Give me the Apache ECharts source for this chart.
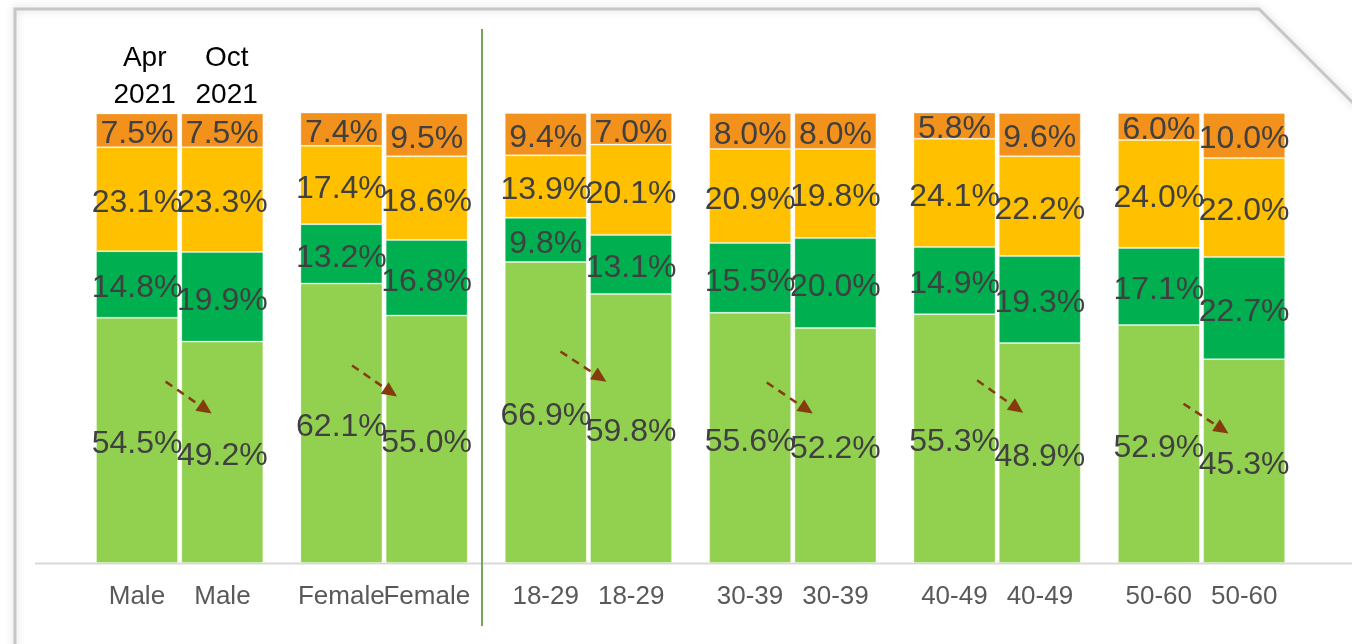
<!DOCTYPE html>
<html><head><meta charset="utf-8">
<script src="https://cdn.jsdelivr.net/npm/echarts@6/dist/echarts.min.js"></script>
<style>html,body{margin:0;padding:0;background:#fff}#c{width:1352px;height:644px}</style>
</head><body><div id="c"></div>
<script>
// Categories (pairs: Apr 2021 / Oct 2021)
const groups = ['Male', 'Female', '18-29', '30-39', '40-49', '50-60'];
const periodLabels = ['Apr\n2021', 'Oct\n2021'];
// Segments, bottom to top (percent)
const aprSeg1 = [54.5, 62.1, 66.9, 55.6, 55.3, 52.9];
const aprSeg2 = [14.8, 13.2, 9.8, 15.5, 14.9, 17.1];
const aprSeg3 = [23.1, 17.4, 13.9, 20.9, 24.1, 24.0];
const aprSeg4 = [7.5, 7.4, 9.4, 8.0, 5.8, 6.0];
const octSeg1 = [49.2, 55.0, 59.8, 52.2, 48.9, 45.3];
const octSeg2 = [19.9, 16.8, 13.1, 20.0, 19.3, 22.7];
const octSeg3 = [23.3, 18.6, 20.1, 19.8, 22.2, 22.0];
const octSeg4 = [7.5, 9.5, 7.0, 8.0, 9.6, 10.0];
// Trend-arrow annotations: start/end value levels
const arrowFrom = [40.3, 43.9, 47.0, 40.1, 40.6, 35.4];
const arrowTo = [33.2, 37.0, 40.3, 33.2, 33.4, 28.8];

const segColors = ['#92D050', '#00B050', '#FFC000', '#F2911B'];
const labelFont = "'Liberation Sans Narrow', 'Liberation Sans', Arial, sans-serif";
const axisFont = "'Liberation Sans', Arial, sans-serif";

function mk(name, stack, data, color) {
  return {
    name: name, type: 'bar', stack: stack, data: data,
    barWidth: 82, barGap: '4%',
    itemStyle: { color: color, borderColor: 'rgba(255,255,255,0.3)', borderWidth: 1 },
    label: {
      show: true, position: 'inside', offset: [0, 4],
      formatter: p => p.value.toFixed(1) + '%',
      fontFamily: labelFont, fontSize: 32, color: '#404040'
    },
    emphasis: { disabled: true }
  };
}
const aprSets = [aprSeg1, aprSeg2, aprSeg3, aprSeg4];
const octSets = [octSeg1, octSeg2, octSeg3, octSeg4];
const series = [];
aprSets.forEach((d, i) => series.push(mk('apr' + i, 'apr', d, segColors[i])));
octSets.forEach((d, i) => series.push(mk('oct' + i, 'oct', d, segColors[i])));

const chart = echarts.init(document.getElementById('c'), null, { renderer: 'canvas' });
chart.setOption({
  animation: false,
  backgroundColor: '#fff',
  grid: { left: 77.5, right: 48.3, top: 113, bottom: 81 },
  xAxis: {
    type: 'category', data: groups,
    axisLine: { show: false }, axisTick: { show: false },
    axisLabel: {
      interval: 0, margin: 20,
      formatter: v => '{a|' + v + '}{b|' + v + '}',
      rich: {
        a: { width: 85.5, align: 'center', fontSize: 26, fontFamily: axisFont, color: '#595959', lineHeight: 28 },
        b: { width: 85.5, align: 'center', fontSize: 26, fontFamily: axisFont, color: '#595959', lineHeight: 28 }
      }
    }
  },
  yAxis: { type: 'value', min: 0, max: 100, show: false, splitLine: { show: false } },
  series: series
});

// Decorations & annotations
const g = [];
g.push({ type: 'polyline', z: 0, shape: { points: [[15, 660], [15, 9], [1259, 9], [1360, 110]] },
  style: { stroke: '#c6c6c6', lineWidth: 3, fill: null, shadowBlur: 8, shadowColor: 'rgba(0,0,0,0.18)' } });
g.push({ type: 'line', z: 0, shape: { x1: 35, y1: 563.5, x2: 1352, y2: 563.5 },
  style: { stroke: '#d9d9d9', lineWidth: 2 } });
g.push({ type: 'line', z: 100, shape: { x1: 482, y1: 29, x2: 482, y2: 626 },
  style: { stroke: '#77A55A', lineWidth: 2 } });
// period header labels above first pair
const c0 = chart.convertToPixel({ gridIndex: 0 }, [0, 100]);
[[-35, periodLabels[0]], [47, periodLabels[1]]].forEach(([dx, t]) => {
  g.push({ type: 'text', z: 100, style: { text: t, x: c0[0] + dx, y: 77, align: 'center', verticalAlign: 'middle',
    font: '28px ' + axisFont, fill: '#000', lineHeight: 37 } });
});
// trend arrows
const arrowDx = [[-14, 32], [-32, 13], [-28, 18], [-26, 20], [-20, 26], [-18, 27]];
groups.forEach((gname, i) => {
  const p1 = chart.convertToPixel({ gridIndex: 0 }, [i, arrowFrom[i]]);
  const p2 = chart.convertToPixel({ gridIndex: 0 }, [i, arrowTo[i]]);
  const x1 = p1[0] + arrowDx[i][0], y1 = p1[1], x2 = p2[0] + arrowDx[i][1], y2 = p2[1];
  const dx = x2 - x1, dy = y2 - y1, L = Math.hypot(dx, dy), ux = dx / L, uy = dy / L;
  const hl = 15, hw = 7;
  const bx = x2 - ux * hl, by = y2 - uy * hl;
  g.push({ type: 'line', z: 100, shape: { x1: x1, y1: y1, x2: bx, y2: by },
    style: { stroke: '#843C0C', lineWidth: 2.5, lineDash: [8, 6] } });
  g.push({ type: 'polygon', z: 100, shape: { points: [[x2, y2], [bx - uy * hw, by + ux * hw], [bx + uy * hw, by - ux * hw]] },
    style: { fill: '#843C0C' } });
});
chart.setOption({ graphic: { elements: g } });
</script></body></html>
